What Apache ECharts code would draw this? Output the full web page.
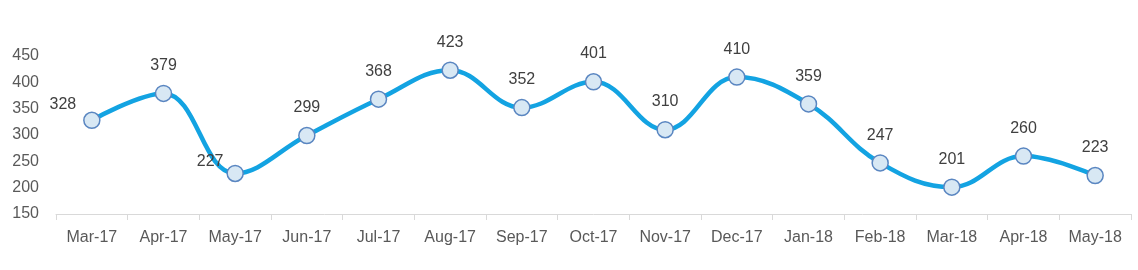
<!DOCTYPE html>
<html><head><meta charset="utf-8">
<script src="https://cdn.jsdelivr.net/npm/echarts@6/dist/echarts.min.js"></script>
<style>html,body{margin:0;padding:0;background:#fff}#c{width:1138px;height:270px}</style>
</head><body><div id="c"></div>
<script>
const categories = ['Mar-17','Apr-17','May-17','Jun-17','Jul-17','Aug-17','Sep-17','Oct-17','Nov-17','Dec-17','Jan-18','Feb-18','Mar-18','Apr-18','May-18'];
const values = [328,379,227,299,368,423,352,401,310,410,359,247,201,260,223];
const yTicks = {min:150, max:450, interval:50};
const labelOffsets = {0:[-29,12], 2:[-25,16]};

const data = values.map((v,i)=>{
  const d = {value:v};
  if (labelOffsets[i]) d.label = {offset: labelOffsets[i]};
  return d;
});
const chart = echarts.init(document.getElementById('c'), null, {renderer:'canvas'});
chart.setOption({
  animation:false,
  textStyle:{fontFamily:'Liberation Sans, Arial, sans-serif'},
  grid:{left:56, right:7, top:56, bottom:56},
  xAxis:{type:'category', data:categories, boundaryGap:true,
    axisLine:{lineStyle:{color:'#d9d9d9', width:1}},
    axisTick:{show:true, alignWithLabel:false, length:6, lineStyle:{color:'#d9d9d9'}},
    axisLabel:{color:'#595959', fontSize:16, margin:16, interval:0}},
  yAxis:{type:'value', min:yTicks.min, max:yTicks.max, interval:yTicks.interval,
    axisLine:{show:false}, axisTick:{show:false}, splitLine:{show:false},
    axisLabel:{color:'#595959', fontSize:16, margin:17}},
  series:[{type:'line', data:data, smooth:0.4,
    lineStyle:{color:'#13a3e2', width:4.5},
    symbol:'circle', symbolSize:16,
    itemStyle:{color:'#d8e8f4', borderColor:'#5a86c1', borderWidth:1.5},
    label:{show:true, position:'top', distance:11, color:'#404040', fontSize:16}
  }]
});
</script></body></html>
